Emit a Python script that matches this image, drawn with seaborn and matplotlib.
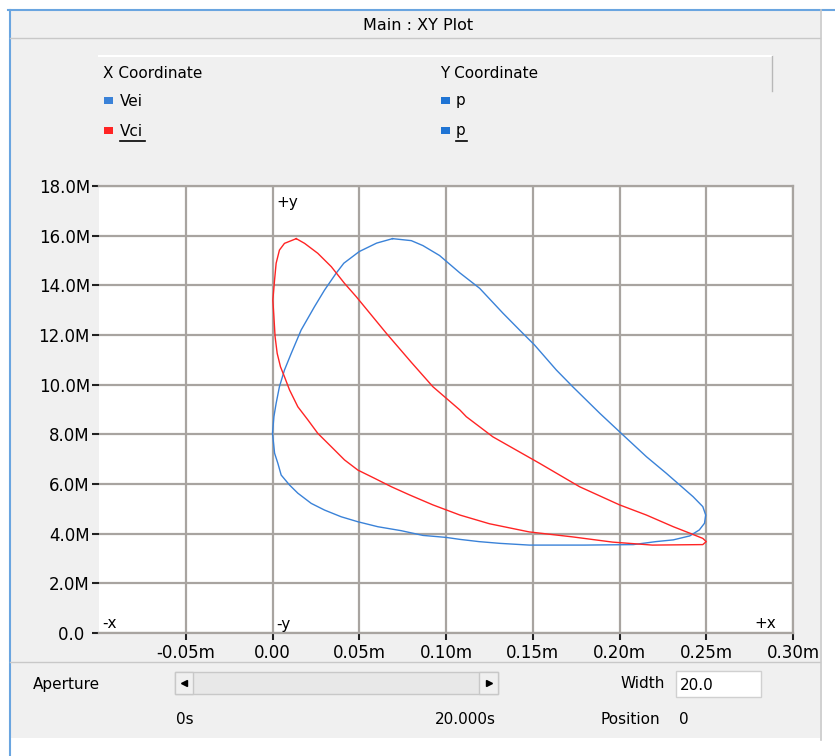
import numpy as np
import pandas as pd
import matplotlib
matplotlib.use("Agg")
import matplotlib.pyplot as plt
from matplotlib.patches import Rectangle
from matplotlib.lines import Line2D
import seaborn as sns

# ---------------- data ----------------
vei_x = [0.0692, 0.080, 0.0867, 0.0963, 0.108, 0.1194, 0.1328, 0.1424, 0.151, 0.1636,
         0.173, 0.1886, 0.201, 0.2155, 0.227, 0.2347, 0.2424, 0.248, 0.2497, 0.249,
         0.246, 0.2405, 0.231, 0.221, 0.208, 0.180, 0.148, 0.131, 0.119, 0.108,
         0.100, 0.0867, 0.0742, 0.0607, 0.0492, 0.0396, 0.030, 0.0223, 0.0146, 0.0098,
         0.005, 0.0031, 0.0012, 0.000, 0.0008, 0.0021, 0.004, 0.0069, 0.0108, 0.0165,
         0.0242, 0.030, 0.0367, 0.0411, 0.050, 0.060, 0.0692]
vei_p = [15.88, 15.80, 15.60, 15.20, 14.50, 13.88, 12.88, 12.20, 11.60, 10.59,
         9.92, 8.85, 8.04, 7.10, 6.43, 5.96, 5.49, 5.09, 4.75, 4.42,
         4.15, 3.91, 3.75, 3.68, 3.56, 3.54, 3.54, 3.61, 3.68, 3.77,
         3.85, 3.93, 4.12, 4.28, 4.48, 4.68, 4.95, 5.22, 5.63, 5.96,
         6.36, 6.83, 7.24, 8.04, 8.71, 9.25, 9.92, 10.59, 11.26, 12.20,
         13.14, 13.81, 14.49, 14.89, 15.36, 15.70, 15.88]

vci_x = [0.0137, 0.0185, 0.0261, 0.0339, 0.0415, 0.0483, 0.0656, 0.080, 0.0924, 0.108,
         0.1117, 0.127, 0.154, 0.177, 0.200, 0.2155, 0.231, 0.2405, 0.248, 0.250,
         0.248, 0.219, 0.196, 0.173, 0.148, 0.125, 0.108, 0.0924, 0.079, 0.0685,
         0.0588, 0.0492, 0.0415, 0.0339, 0.0261, 0.0204, 0.0146, 0.0098, 0.0069, 0.0046,
         0.0027, 0.0015, 0.0008, 0.0002, 0.0012, 0.0021, 0.004, 0.0069, 0.0137]
vci_p = [15.88, 15.69, 15.29, 14.75, 14.08, 13.54, 12.07, 10.90, 9.92, 8.98,
         8.71, 7.90, 6.83, 5.89, 5.16, 4.75, 4.28, 4.02, 3.81, 3.68,
         3.56, 3.54, 3.66, 3.87, 4.07, 4.40, 4.75, 5.16, 5.56, 5.89,
         6.23, 6.56, 6.97, 7.50, 8.04, 8.58, 9.11, 9.79, 10.32, 10.72,
         11.26, 11.93, 12.74, 13.41, 14.22, 14.89, 15.42, 15.69, 15.88]

x_ticks = [-0.05, 0.00, 0.05, 0.10, 0.15, 0.20, 0.25, 0.30]
x_tick_labels = ["-0.05m", "0.00", "0.05m", "0.10m", "0.15m", "0.20m", "0.25m", "0.30m"]
y_ticks = [0, 2, 4, 6, 8, 10, 12, 14, 16, 18]
y_tick_labels = ["0.0 ", "2.0M", "4.0M", "6.0M", "8.0M", "10.0M", "12.0M", "14.0M", "16.0M", "18.0M"]

series_names = ["Vei", "Vci"]
series_colors = {"Vei": "#3a82d8", "Vci": "#ff2424"}

# ---------------- figure ----------------
W, H = 835, 756
fig = plt.figure(figsize=(W / 100, H / 100), dpi=100, facecolor="white")

def fx(px):
    return px / W

def fy(py):
    return 1 - py / H

def rect(x0, y0, x1, y1, **kw):
    fig.add_artist(Rectangle((fx(x0), fy(y1)), fx(x1) - fx(x0), fy(y0) - fy(y1),
                             transform=fig.transFigure, **kw))

def hline(x0, x1, y, **kw):
    fig.add_artist(Line2D([fx(x0), fx(x1)], [fy(y), fy(y)], transform=fig.transFigure, **kw))

def vline(x, y0, y1, **kw):
    fig.add_artist(Line2D([fx(x), fx(x)], [fy(y0), fy(y1)], transform=fig.transFigure, **kw))

UI = "DejaVu Sans"

# panel background
rect(10, 10, 820, 738, facecolor="#f0f0f0", edgecolor="none", zorder=0)
# window borders
hline(8, 835, 9.5, color="#6aa5e0", lw=1.5)
vline(10, 9.5, 756, color="#6aa5e0", lw=1.5)
vline(821, 9.5, 740, color="#c8c8c8", lw=1.2)
# header bar
hline(10, 820, 38, color="#c8c8c8", lw=1.0)
fig.text(fx(418), fy(25), "Main : XY Plot", ha="center", va="center", fontsize=11.5, family=UI)

# legend header box
hline(99, 772, 56, color="white", lw=1.5)
vline(772, 56, 91, color="#b8b8b8", lw=1.0)
fig.text(fx(103), fy(74), "X Coordinate", ha="left", va="center", fontsize=11, family=UI)
fig.text(fx(440), fy(74), "Y Coordinate", ha="left", va="center", fontsize=11, family=UI)

leg_rows = [(101, "Vei", "p", False), (131, "Vci", "p", True)]
for (yy, xname, yname, underline) in leg_rows:
    rect(104, yy - 4, 113, yy + 3, facecolor=series_colors[xname], edgecolor="none")
    rect(441, yy - 4, 450, yy + 3, facecolor="#1f74d4", edgecolor="none")
    fig.text(fx(120), fy(yy), xname, ha="left", va="center", fontsize=11, family=UI)
    fig.text(fx(456), fy(yy), yname, ha="left", va="center", fontsize=11, family=UI)
    if underline:
        hline(120, 145, yy + 10, color="black", lw=1.2)
        hline(456, 467, yy + 10, color="black", lw=1.2)

# bottom controls
hline(10, 820, 662, color="#c8c8c8", lw=1.0)
fig.text(fx(33), fy(684), "Aperture", ha="left", va="center", fontsize=11, family=UI)
rect(175, 672, 498, 694, facecolor="#e8e8e8", edgecolor="#c8c8c8", lw=1.0)
rect(175, 672, 193, 694, facecolor="#f0f0f0", edgecolor="#c8c8c8", lw=1.0)
rect(479, 672, 498, 694, facecolor="#f0f0f0", edgecolor="#c8c8c8", lw=1.0)
fig.add_artist(Line2D([fx(184)], [fy(683)], marker="<", markersize=4, color="black",
                      transform=fig.transFigure))
fig.add_artist(Line2D([fx(489)], [fy(683)], marker=">", markersize=4, color="black",
                      transform=fig.transFigure))
fig.text(fx(665), fy(684), "Width", ha="right", va="center", fontsize=11, family=UI)
rect(676, 671, 761, 697, facecolor="white", edgecolor="#d0d0d0", lw=1.0)
fig.text(fx(680), fy(685), "20.0", ha="left", va="center", fontsize=11, family=UI)
fig.text(fx(176), fy(719), "0s", ha="left", va="center", fontsize=11, family=UI)
fig.text(fx(496), fy(719), "20.000s", ha="right", va="center", fontsize=11, family=UI)
fig.text(fx(660), fy(719), "Position", ha="right", va="center", fontsize=11, family=UI)
fig.text(fx(679), fy(719), "0", ha="left", va="center", fontsize=11, family=UI)

# ---------------- main plot ----------------
ax = fig.add_axes([fx(99), fy(633), fx(793) - fx(99), fy(186) - fy(633)])
ax.set_facecolor("white")

df = pd.concat([
    pd.DataFrame({"x": vei_x, "p": vei_p, "series": "Vei"}),
    pd.DataFrame({"x": vci_x, "p": vci_p, "series": "Vci"}),
], ignore_index=True)

sns.lineplot(data=df, x="x", y="p", hue="series", hue_order=series_names,
             palette=series_colors, sort=False, estimator=None, legend=False,
             lw=1.0, ax=ax, zorder=3)

ax.set_xlim(-0.1, 0.30)
ax.set_ylim(0, 18)
ax.set_xticks(x_ticks)
ax.set_xticklabels(x_tick_labels)
ax.set_yticks(y_ticks)
ax.set_yticklabels(y_tick_labels)
ax.set_xlabel("")
ax.set_ylabel("")
ax.grid(True, color="#a8a4a0", lw=1.6, zorder=1)
ax.set_axisbelow(True)
for s in ["top", "right", "bottom"]:
    ax.spines[s].set_color("#a8a4a0")
    ax.spines[s].set_linewidth(1.6)
ax.spines["left"].set_visible(False)
ax.tick_params(axis="y", length=5, width=1.5, pad=1.5, color="#202020", labelsize=12, labelcolor="black")
ax.tick_params(axis="x", length=5, width=1.5, pad=3, color="#202020", labelsize=12, labelcolor="black")
for lab in ax.get_xticklabels() + ax.get_yticklabels():
    lab.set_family("DejaVu Sans")

# axis direction markers
ax.text(0.002, 17.35, "+y", fontsize=11, ha="left", va="center", family=UI)
ax.text(0.002, 0.35, "-y", fontsize=11, ha="left", va="center", family=UI)
ax.text(-0.098, 0.4, "-x", fontsize=11, ha="left", va="center", family=UI)
ax.text(0.278, 0.4, "+x", fontsize=11, ha="left", va="center", family=UI)

fig.savefig("out.png", dpi=100, facecolor="white")
